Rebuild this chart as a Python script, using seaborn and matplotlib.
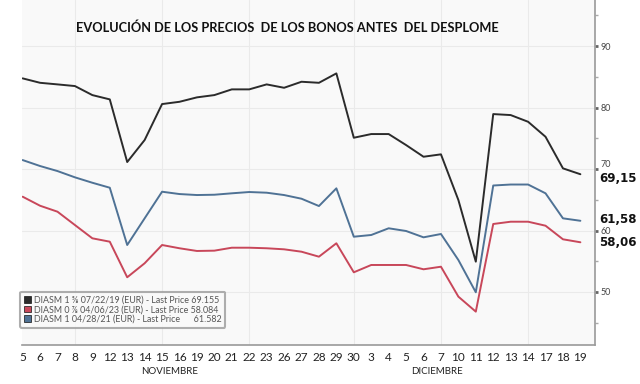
import pandas as pd
import seaborn as sns
import matplotlib.pyplot as plt
from matplotlib.patches import Patch

# trading days (Nov -> Dec)
dias = ['5', '6', '7', '8', '9', '12', '13', '14', '15', '16', '19', '20', '21', '22', '23',
        '26', '27', '28', '29', '30', '3', '4', '5', '6', '7', '10', '11', '12', '13', '14',
        '17', '18', '19']

bono_2019 = [84.75, 84.03, 83.77, 83.5, 82.03, 81.33, 71.14, 74.72, 80.57, 80.94, 81.66,
             82.03, 82.96, 82.96, 83.77, 83.22, 84.2, 84.03, 85.56, 75.09, 75.69, 75.69,
             73.9, 72.0, 72.39, 64.96, 54.93, 78.94, 78.78, 77.69, 75.25, 70.11, 69.155]
bono_2023 = [65.5, 64.03, 63.06, 60.89, 58.73, 58.18, 52.39, 54.67, 57.64, 57.11, 56.67,
             56.72, 57.2, 57.2, 57.11, 56.94, 56.55, 55.74, 57.92, 53.2, 54.39, 54.39,
             54.39, 53.69, 54.11, 49.24, 46.8, 61.06, 61.43, 61.43, 60.78, 58.57, 58.084]
bono_2021 = [71.46, 70.49, 69.67, 68.65, 67.77, 66.96, 57.64, 61.98, 66.31, 65.93, 65.77,
             65.82, 66.05, 66.26, 66.15, 65.77, 65.17, 63.98, 66.86, 58.99, 59.27, 60.36,
             59.92, 58.89, 59.43, 55.2, 49.95, 67.32, 67.48, 67.48, 66.05, 61.98, 61.582]

series = ['DIASM 1 \u215d 07/22/19 (EUR) - Last Price 69.155',
          'DIASM 0 \u215e 04/06/23 (EUR) - Last Price 58.084',
          'DIASM 1 04/28/21 (EUR) - Last Price      61.582']
etiquetas = ['69,15', '58,06', '61,58']
colores = ['#2b2b2b', '#c8475a', '#4f7295']

n = len(dias)
df = pd.DataFrame({
    'pos': list(range(n)) * 3,
    'precio': bono_2019 + bono_2023 + bono_2021,
    'bono': [series[0]] * n + [series[1]] * n + [series[2]] * n,
})

sns.set_style('white')
plt.rcParams['font.family'] = ['Lato', 'DejaVu Sans']

fig = plt.figure(figsize=(6.4, 3.84), dpi=100)
ax = fig.add_axes([0.034, 0.102, 0.896, 0.898])
ax.set_facecolor('#f9f9f9')

sns.lineplot(data=df, x='pos', y='precio', hue='bono', palette=colores,
             linewidth=1.4, legend=False, ax=ax)

ax.set_xlim(-0.05, n - 1 + 0.85)
ax.set_ylim(41.4, 97.5)

# axis styling
ax.yaxis.tick_right()
ax.set_yticks([50, 60, 70, 80, 90])
ax.set_yticks([45, 55, 65, 75, 85, 95], minor=True)
ax.tick_params(axis='y', which='major', length=2, width=2, color='#666666',
               labelsize=6.5, labelcolor='#444444', pad=2)
ax.tick_params(axis='y', which='minor', length=2, width=1, color='#aaaaaa')
ax.set_xticks(range(n))
ax.set_xticklabels(dias)
ax.tick_params(axis='x', length=2, color='#999999', labelsize=8.5, labelcolor='#222222', pad=3)
ax.set_xlabel('')
ax.set_ylabel('')
for s in ['top', 'left']:
    ax.spines[s].set_visible(False)
for s in ['bottom', 'right']:
    ax.spines[s].set_color('#9a9a9a')
    ax.spines[s].set_linewidth(1.2)

# nudge the 70 label up a bit, as in the original
for lbl in ax.get_yticklabels():
    if lbl.get_text() == '70':
        lbl.set_va('bottom')

ax.yaxis.grid(True, color='#eaeaea', linewidth=0.8)
for i in [3, 8, 13, 19, 24, 29]:
    ax.axvline(i, color='#eaeaea', linewidth=0.8, zorder=0)

# last price labels at the right
offsets = [-3, 0, 1]
for vals, lab, dy in zip([bono_2019, bono_2023, bono_2021], etiquetas, offsets):
    ax.annotate(lab, xy=(1.0, vals[-1]), xycoords=('axes fraction', 'data'),
                xytext=(3, dy), textcoords='offset points', va='center', ha='left',
                fontsize=8.5, fontweight='bold', color='#111111', family='DejaVu Sans',
                annotation_clip=False)

handles = [Patch(facecolor=c, edgecolor='#111111', linewidth=0.5) for c in colores]
leg = ax.legend(handles, series, loc='lower left', bbox_to_anchor=(-0.003, 0.05),
                fontsize=6.4, frameon=True, fancybox=True, handlelength=0.8,
                handleheight=0.8, handletextpad=0.3, labelspacing=0.05,
                borderpad=0.45, borderaxespad=0)
leg.get_frame().set_edgecolor('#9a9a9a')
leg.get_frame().set_linewidth(1.5)
leg.get_frame().set_facecolor('#fafafa')
for t in leg.get_texts():
    t.set_color('#555555')

fig.text(287 / 640, 1 - 28 / 384, 'EVOLUCIÓN DE LOS PRECIOS  DE LOS BONOS ANTES  DEL DESPLOME',
         ha='center', va='center', fontsize=9.2, fontweight='bold', color='#111111')
fig.text(170 / 640, 1 - 371 / 384, 'NOVIEMBRE', ha='center', va='center',
         fontsize=7, color='#222222')
fig.text(437 / 640, 1 - 371 / 384, 'DICIEMBRE', ha='center', va='center',
         fontsize=7, color='#222222')

fig.savefig('out.png', dpi=100)
